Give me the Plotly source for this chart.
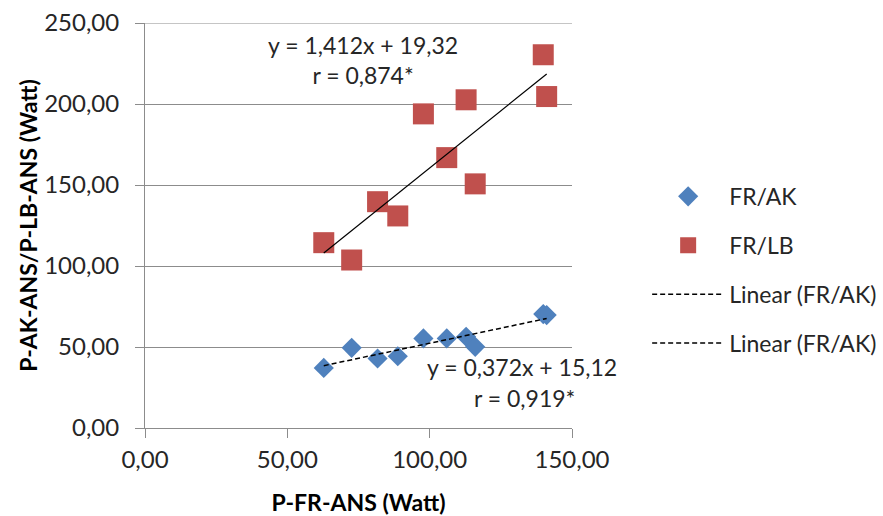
import plotly.graph_objects as go

# Power at the anaerobic threshold (Watt)
fr_ans = [62.8, 72.6, 81.7, 88.8, 97.8, 106.0, 112.8, 116.0, 139.9, 141.1]
ak_ans = [37.1, 49.5, 42.9, 44.3, 55.3, 55.3, 56.3, 50.1, 70.3, 69.7]
lb_ans = [114.4, 103.7, 139.7, 130.9, 193.9, 166.9, 202.6, 150.7, 230.4, 204.6]

# Linear regression coefficients (slope, intercept) and correlation
ak_fit = (0.372, 15.12, 0.919)
lb_fit = (1.412, 19.32, 0.874)

x_ticks = [0, 50, 100, 150]
y_ticks = [0, 50, 100, 150, 200, 250]

FONT = "Lato"
TXT = "#262626"
GRID = "#8c8c8c"
DASH = "5px,3px"


def fmt(v, d=2):
    return f"{v:.{d}f}".replace(".", ",")


x_lo, x_hi = min(fr_ans), max(fr_ans)

fig = go.Figure()

fig.add_trace(go.Scatter(
    x=fr_ans, y=ak_ans, mode="markers", name="FR/AK", legendgroup="a",
    marker=dict(symbol="diamond", size=15.5, color="#4F81BD"),
))
fig.add_trace(go.Scatter(
    x=fr_ans, y=lb_ans, mode="markers", name="FR/LB", legendgroup="b",
    marker=dict(symbol="square", size=21, color="#C0504D"),
))
fig.add_trace(go.Scatter(
    x=[x_lo, x_hi], y=[ak_fit[0] * x_lo + ak_fit[1], ak_fit[0] * x_hi + ak_fit[1]],
    mode="lines", name="Linear (FR/AK)", legendgroup="c",
    line=dict(color="black", width=1.5, dash=DASH),
))
fig.add_trace(go.Scatter(
    x=[x_lo, x_hi], y=[lb_fit[0] * x_lo + lb_fit[1], lb_fit[0] * x_hi + lb_fit[1]],
    mode="lines", name="Linear (FR/AK)", legendgroup="d", showlegend=False,
    line=dict(color="black", width=1.2),
))
# legend entry for the second trendline (shown dashed in the key)
fig.add_trace(go.Scatter(
    x=[None], y=[None], mode="lines", name="Linear (FR/AK)", legendgroup="d",
    line=dict(color="black", width=1.5, dash=DASH),
))

fig.add_annotation(
    x=76.5, y=227, xref="x", yref="y", showarrow=False,
    text=f"y = {fmt(lb_fit[0], 3)}x + {fmt(lb_fit[1])}<br>r = {fmt(lb_fit[2], 3)}*",
    font=dict(family=FONT, size=23, color=TXT), align="center",
)
fig.add_annotation(
    x=132.4, y=37.5, xref="x", yref="y", showarrow=False,
    text=f"y = {fmt(ak_fit[0], 3)}x + {fmt(ak_fit[1])}",
    font=dict(family=FONT, size=23, color=TXT),
)
fig.add_annotation(
    x=150, y=18.5, xref="x", yref="y", showarrow=False, xanchor="right", xshift=5,
    text=f"r = {fmt(ak_fit[2], 3)}*",
    font=dict(family=FONT, size=23, color=TXT),
)

# top gridline at the upper end of the value axis
fig.add_shape(
    type="line", xref="paper", yref="y", x0=0, x1=1, y0=y_ticks[-1], y1=y_ticks[-1],
    line=dict(color=GRID, width=1), layer="below",
)

fig.update_layout(
    width=883, height=516,
    margin=dict(l=145, r=311, t=23, b=88, autoexpand=False),
    paper_bgcolor="white", plot_bgcolor="white",
    font=dict(family=FONT, size=23, color=TXT),
    showlegend=True,
    legend=dict(
        x=1.176, y=0.625, xanchor="left", yanchor="top",
        font=dict(family=FONT, size=23, color=TXT),
        itemwidth=72, tracegroupgap=16, traceorder="grouped",
        bgcolor="rgba(0,0,0,0)",
    ),
)

fig.update_xaxes(
    range=[0, 150], tickvals=x_ticks, ticktext=[fmt(v) for v in x_ticks],
    showgrid=False, zeroline=False, automargin=False,
    showline=True, linecolor=GRID, linewidth=1,
    ticks="outside", ticklen=9, tickcolor=GRID,
    tickfont=dict(family=FONT, size=24, color=TXT),
    ticklabelstandoff=1,
    title=dict(text="<b>P-FR-ANS (Watt)</b>", font=dict(family=FONT, size=23, color="black"),
               standoff=24),
)
fig.update_yaxes(
    range=[0, 250], tickvals=y_ticks, ticktext=[fmt(v) for v in y_ticks],
    showgrid=True, gridcolor=GRID, gridwidth=1, zeroline=False, automargin=False,
    showline=True, linecolor=GRID, linewidth=1,
    ticks="outside", ticklen=9, tickcolor=GRID,
    tickfont=dict(family=FONT, size=24, color=TXT),
    ticklabelstandoff=11,
    title=dict(text="<b>P-AK-ANS/P-LB-ANS (Watt)</b>", font=dict(family=FONT, size=23, color="black"),
               standoff=0),
)

fig.write_html("out.html")
